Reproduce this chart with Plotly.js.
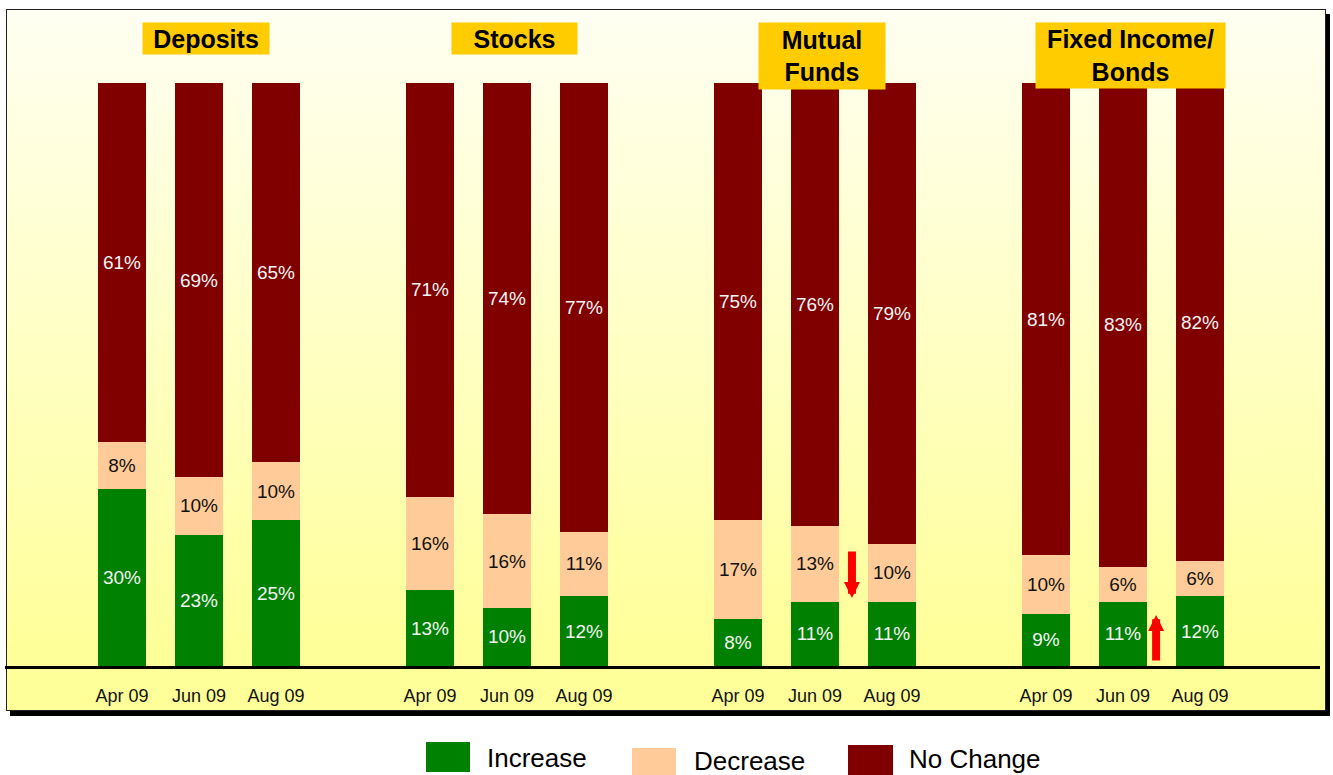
<!DOCTYPE html>
<html><head><meta charset="utf-8">
<script src="https://cdn.plot.ly/plotly-3.0.1.min.js"></script>
<style>
html,body{margin:0;padding:0;background:#fff;width:1333px;height:775px;overflow:hidden}
#frame{position:absolute;left:6px;top:9px;width:1318px;height:700px;border:1.5px solid #222;
  background:linear-gradient(to bottom,#FFFFF2 0%,#FFFF99 92%,#FFFF99 100%);box-shadow:4px 5px 0 #000}
#chart{position:absolute;left:0;top:0;width:1333px;height:775px}
</style></head>
<body><div id="frame"></div><div id="chart"></div>
<script>
// ---- data ----
const groups = ["Deposits", "Stocks", "Mutual<br>Funds", "Fixed Income/<br>Bonds"];
const periods = ["Apr 09", "Jun 09", "Aug 09"];
const increase = [[30, 23, 25], [13, 10, 12], [8, 11, 11], [9, 11, 12]];
const decrease = [[8, 10, 10], [16, 16, 11], [17, 13, 10], [10, 6, 6]];
const noChange = [[61, 69, 65], [71, 74, 77], [75, 76, 79], [81, 83, 82]];
const seriesNames = ["Increase", "Decrease", "No Change"];

// ---- styles ----
const colors = ["#008000", "#FFCC99", "#800000"];
const textColors = ["#F4F4F4", "#111111", "#F4F4F4"];
const FONT = "Liberation Sans, Arial, sans-serif";

const slot = periods.length + 1;
const xs = [], ticktext = [];
groups.forEach((g, gi) => periods.forEach((p, pi) => { xs.push(gi * slot + pi); ticktext.push(p); }));

const flat = a => a.flat();
const seriesData = [increase, decrease, noChange];
const traces = seriesData.map((d, i) => ({
  type: "bar",
  name: seriesNames[i],
  x: xs,
  y: flat(d),
  text: flat(d).map(v => v + "%"),
  texttemplate: "%{text}",
  textposition: "inside",
  insidetextanchor: "middle",
  constraintext: "none",
  textangle: 0,
  insidetextfont: {family: FONT, size: 19, color: textColors[i]},
  marker: {color: colors[i], line: {width: 0}},
  hoverinfo: "skip",
  showlegend: false
}));

// pixel helpers for paper-positioned decorations
const L = 5, R = 1320, T = 83, B = 666;
const px = p => (p - L) / (R - L);
const py = p => (B - p) / (B - T);

const annotations = [];
// group titles
const titleBoxes = [[126, 31], [125, 31], [126, 66], [189, 65]];
groups.forEach((g, gi) => {
  annotations.push({
    xref: "x", yref: "paper",
    x: gi * slot + (periods.length - 1) / 2, y: py(22),
    xanchor: "center", yanchor: "top", xshift: 7,
    text: "<b>" + g + "</b>",
    showarrow: false,
    bgcolor: "#FFCC00", borderpad: 0,
    width: titleBoxes[gi][0], height: titleBoxes[gi][1],
    valign: "middle", align: "center",
    font: {family: FONT, size: 25, color: "#000"}
  });
});
// red arrows
annotations.push({xref: "x", yref: "y", x: 9.48, y: 11.66, ax: 0, ay: -48, text: "",
  showarrow: true, arrowhead: 2, arrowsize: 0.4, arrowwidth: 8, arrowcolor: "#FF0000"});
annotations.push({xref: "x", yref: "y", x: 13.43, y: 8.75, ax: 0, ay: 47, text: "",
  showarrow: true, arrowhead: 2, arrowsize: 0.4, arrowwidth: 8, arrowcolor: "#FF0000"});

// manual legend
const legendBoxes = [[426, 742, 470, 772], [632, 748, 676, 778], [848, 745, 893, 775]];
const legendText = [[485, 758], [692, 761], [907, 759]];
const shapes = [];
seriesNames.forEach((n, i) => {
  const b = legendBoxes[i];
  shapes.push({type: "rect", xref: "paper", yref: "paper",
    x0: px(b[0]), x1: px(b[2]), y0: py(b[3]), y1: py(b[1]),
    fillcolor: colors[i], line: {width: 0}});
  annotations.push({xref: "paper", yref: "paper", x: px(legendText[i][0]), y: py(legendText[i][1]),
    xanchor: "left", yanchor: "middle", text: n, showarrow: false,
    font: {family: FONT, size: 26, color: "#000"}});
});

const layout = {
  width: 1333, height: 775,
  margin: {l: L, r: 1333 - R, t: T, b: 775 - B, pad: 0},
  paper_bgcolor: "rgba(0,0,0,0)", plot_bgcolor: "rgba(0,0,0,0)",
  barmode: "stack", barnorm: "percent", bargap: 0.377,
  showlegend: false,
  xaxis: {
    range: [(L - 122) / 77, (R - 122) / 77],
    tickvals: xs, ticktext: ticktext,
    showline: true, linewidth: 3, linecolor: "#000",
    ticks: "outside", ticklen: 11, tickcolor: "rgba(0,0,0,0)",
    showgrid: false, zeroline: false, fixedrange: true,
    tickfont: {family: FONT, size: 18, color: "#111"}
  },
  yaxis: {range: [0, 100], visible: false, fixedrange: true},
  annotations: annotations,
  shapes: shapes,
  font: {family: FONT}
};

Plotly.newPlot("chart", traces, layout, {displayModeBar: false, staticPlot: true});
</script>
</body></html>
